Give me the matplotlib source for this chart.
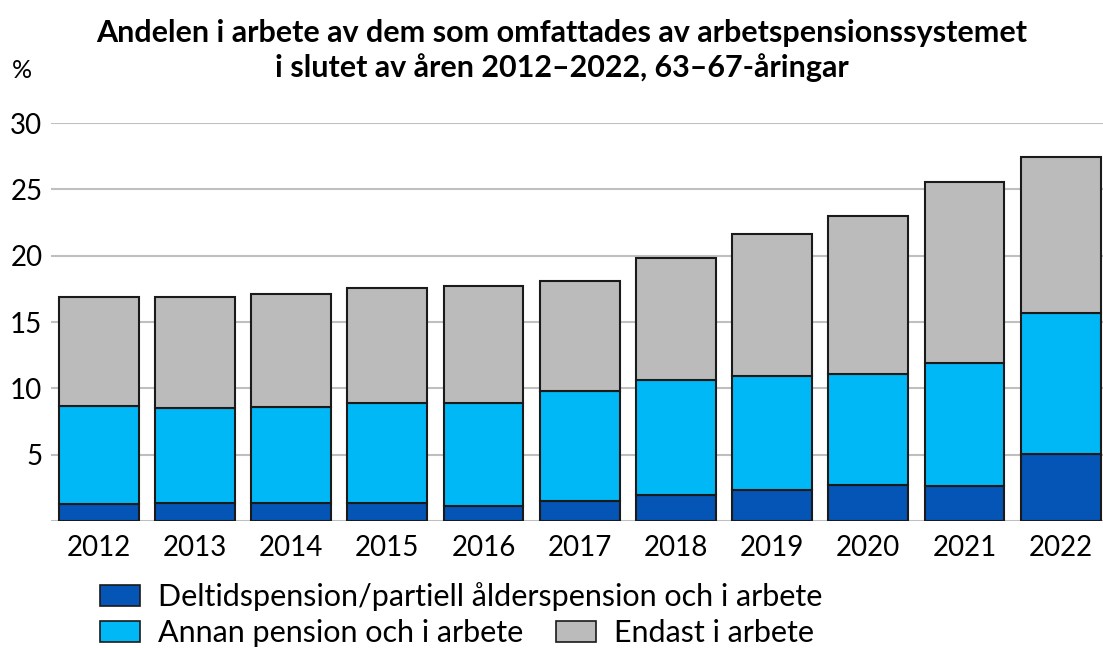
import matplotlib.pyplot as plt
from matplotlib.patches import Patch

years = ['2012', '2013', '2014', '2015', '2016', '2017', '2018', '2019', '2020', '2021', '2022']
# cumulative levels (%)
deltid = [1.3, 1.33, 1.35, 1.38, 1.13, 1.48, 1.98, 2.33, 2.68, 2.61, 5.04]
deltid_annan = [8.65, 8.55, 8.6, 8.87, 8.9, 9.82, 10.6, 10.95, 11.08, 11.9, 15.71]
totals = [16.87, 16.92, 17.14, 17.54, 17.69, 18.07, 19.8, 21.65, 23.03, 25.59, 27.47]

annan = [b - a for a, b in zip(deltid, deltid_annan)]
endast = [t - b for b, t in zip(deltid_annan, totals)]

labels = ['Deltidspension/partiell ålderspension och i arbete',
          'Annan pension och i arbete', 'Endast i arbete']
colors = ['#0455B5', '#00B8F5', '#BBBBBB']

plt.rcParams['font.family'] = ['Lato', 'DejaVu Sans']

fig = plt.figure(figsize=(11.03, 6.48), dpi=100)
ax = fig.add_axes([0.046, 0.196, 0.954, 0.614])

x = list(range(len(years)))
w = 0.83
ax.bar(x, deltid, w, color=colors[0], edgecolor='#1a1a1a', linewidth=1.5, zorder=3)
ax.bar(x, annan, w, bottom=deltid, color=colors[1], edgecolor='#1a1a1a', linewidth=1.5, zorder=3)
ax.bar(x, endast, w, bottom=deltid_annan, color=colors[2], edgecolor='#1a1a1a', linewidth=1.5, zorder=3)

ax.set_xlim(-0.5, 10.44)
ax.set_ylim(0, 30)
ax.set_yticks([5, 10, 15, 20, 25, 30])
ax.yaxis.grid(True, color='#BFBFBF', linewidth=1.5, zorder=0)
ax.axhline(0, color='#BFBFBF', linewidth=1.5, zorder=0)
for s in ax.spines.values():
    s.set_visible(False)
ax.tick_params(axis='both', length=0, labelsize=20)
ax.tick_params(axis='x', pad=10)
ax.tick_params(axis='y', pad=6)
ax.set_xticks(x)
ax.set_xticklabels(years)

fig.text(0.011, 0.88, '%', fontsize=18)
fig.text(0.509, 0.949, 'Andelen i arbete av dem som omfattades av arbetspensionssystemet',
         ha='center', va='center', fontsize=22, fontweight='bold')
fig.text(0.509, 0.895, 'i slutet av åren 2012–2022, 63–67-åringar',
         ha='center', va='center', fontsize=22, fontweight='bold')

h = [Patch(facecolor=c, edgecolor='#1a1a1a', linewidth=1.2) for c in colors]
leg1 = fig.legend([h[0]], [labels[0]], loc='center left', bbox_to_anchor=(0.0907, 0.0787),
                  frameon=False, fontsize=22, handlelength=1.31, handleheight=0.66,
                  handletextpad=0.59, borderpad=0, borderaxespad=0)
leg2 = fig.legend([h[1], h[2]], labels[1:], loc='center left', bbox_to_anchor=(0.0907, 0.0231),
                  ncol=2, frameon=False, fontsize=22, handlelength=1.31, handleheight=0.66,
                  handletextpad=0.59, columnspacing=1.08, borderpad=0, borderaxespad=0)

fig.savefig('out.png', dpi=100)
